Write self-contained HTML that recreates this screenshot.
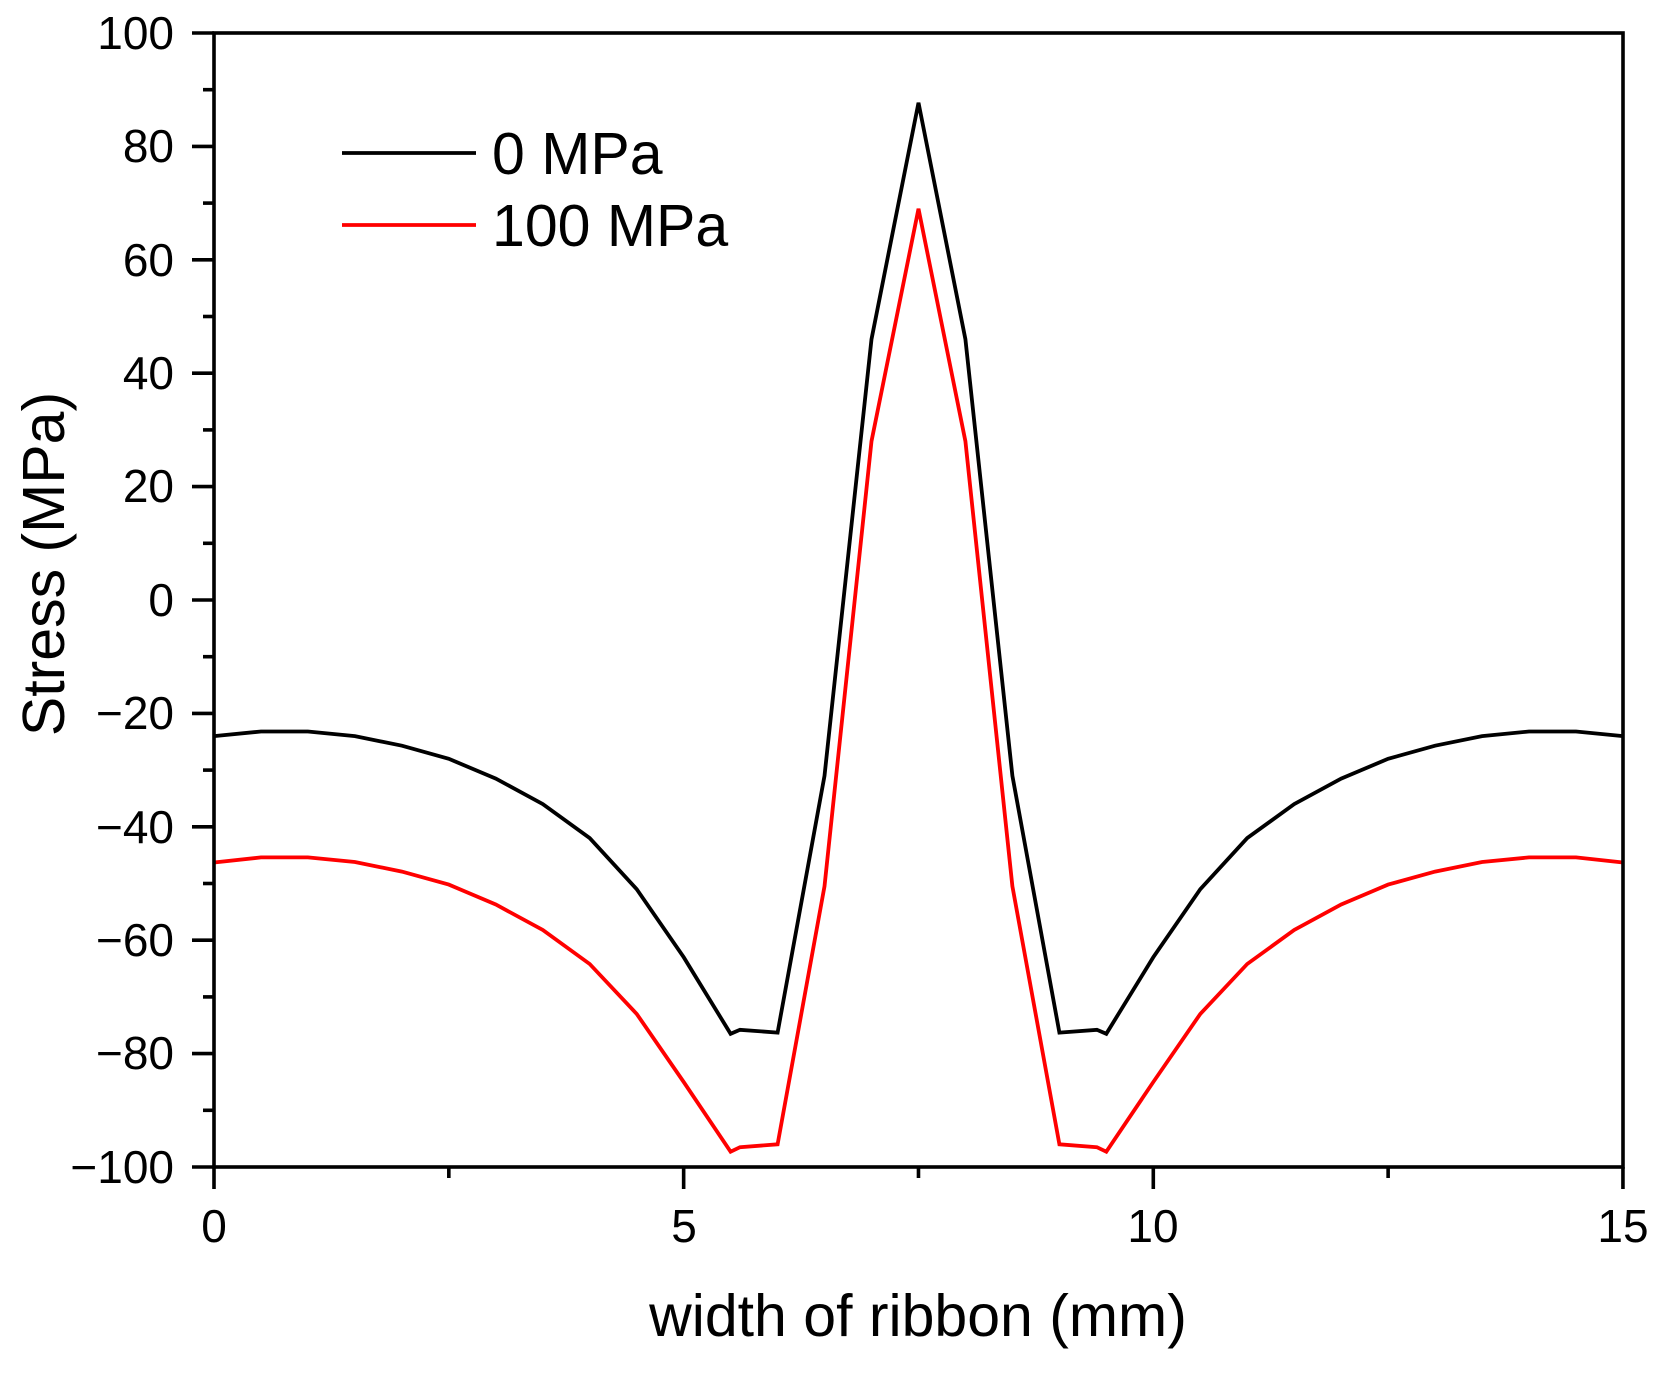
<!DOCTYPE html>
<html><head><meta charset="utf-8"><style>html,body{margin:0;padding:0;background:#fff}svg{display:block}</style></head>
<body>
<svg id="s" width="1668" height="1374" viewBox="0 0 1668 1374" xmlns="http://www.w3.org/2000/svg" font-family="Liberation Sans, Arial, sans-serif">
<rect width="1668" height="1374" fill="#fff"/>
<g id="ticks" stroke="#000" stroke-width="3.6"></g>
<path id="pb" fill="none" stroke="#000" stroke-width="3.8" stroke-linejoin="miter"/>
<path id="pr" fill="none" stroke="#ff0000" stroke-width="3.8" stroke-linejoin="miter"/>
<rect x="214" y="33" width="1409" height="1134" fill="none" stroke="#000" stroke-width="3.6"/>
<g font-size="46" text-anchor="end" fill="#000">
<text x="174" y="49">100</text>
<text x="174" y="162">80</text>
<text x="174" y="276">60</text>
<text x="174" y="389">40</text>
<text x="174" y="502">20</text>
<text x="174" y="616">0</text>
<text x="174" y="729">−20</text>
<text x="174" y="843">−40</text>
<text x="174" y="956">−60</text>
<text x="174" y="1069">−80</text>
<text x="174" y="1183">−100</text>
</g>
<g font-size="46" text-anchor="middle" fill="#000">
<text x="214" y="1242">0</text>
<text x="684" y="1242">5</text>
<text x="1153" y="1242">10</text>
<text x="1623" y="1242">15</text>
</g>
<text x="918" y="1336" font-size="59" text-anchor="middle">width of ribbon (mm)</text>
<text transform="translate(64,564) rotate(-90)" font-size="59" text-anchor="middle">Stress (MPa)</text>
<line x1="342" y1="153" x2="476" y2="153" stroke="#000" stroke-width="3.8"/>
<line x1="342" y1="225" x2="476" y2="225" stroke="#ff0000" stroke-width="3.8"/>
<text x="492" y="174" font-size="59">0 MPa</text>
<text x="492" y="246" font-size="59">100 MPa</text>
</svg>
<script>
var X=function(v){return 214+93.93*v},Y=function(v){return 600-5.67*v};
var half=[[0,-24],[0.5,-23.2],[1,-23.2],[1.5,-24],[2,-25.7],[2.5,-28],[3,-31.5],[3.5,-36],[4,-42],[4.5,-51],[5,-63],[5.5,-76.5],[5.6,-75.8],[6,-76.3],[6.5,-31],[7,46],[7.5,87.7]];
var halfr=[[0,-46.3],[0.5,-45.4],[1,-45.4],[1.5,-46.2],[2,-47.9],[2.5,-50.2],[3,-53.7],[3.5,-58.2],[4,-64.2],[4.5,-73],[5,-85],[5.5,-97.3],[5.6,-96.5],[6,-96],[6.5,-50.5],[7,28],[7.5,69]];
function full(h){var a=h.slice();for(var i=h.length-2;i>=0;i--)a.push([15-h[i][0],h[i][1]]);return a;}
function d(a){return a.map(function(p,i){return (i?'L':'M')+X(p[0]).toFixed(1)+' '+Y(p[1]).toFixed(1)}).join('');}
document.getElementById('pb').setAttribute('d',d(full(half)));
document.getElementById('pr').setAttribute('d',d(full(halfr)));
var t='';
for(var v=-100;v<=100;v+=10){var y=Y(v),l=(v%20==0)?22:11;t+='<line x1="'+(214-l)+'" y1="'+y+'" x2="214" y2="'+y+'"/>';}
for(var u=0;u<=15;u+=2.5){var x=X(u),l=(u%5==0)?22:11;t+='<line x1="'+x+'" y1="1167" x2="'+x+'" y2="'+(1167+l)+'"/>';}
document.getElementById('ticks').innerHTML=t;
</script>
</body></html>
